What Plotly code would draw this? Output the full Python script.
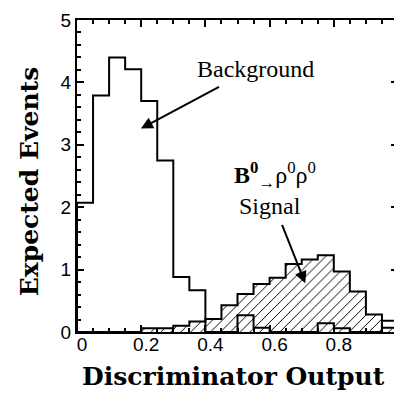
import plotly.graph_objects as go

# ---- data ----
bin_edges = [round(0.05 * i, 2) for i in range(21)]
background = [2.07, 3.79, 4.40, 4.21, 3.70, 2.75, 0.88, 0.67, 0.0, 0.0,
              0.27, 0.07, 0.0, 0.0, 0.0, 0.14, 0.06, 0.0, 0.0, 0.18]
signal = [0.0, 0.0, 0.0, 0.0, 0.06, 0.06, 0.10, 0.17, 0.21, 0.43,
          0.61, 0.77, 0.87, 1.09, 1.16, 1.23, 0.97, 0.65, 0.28, 0.07]
x_ticks = [0, 0.2, 0.4, 0.6, 0.8]
x_tick_labels = ["0", "0.2", "0.4", "0.6", "0.8"]
y_ticks = [0, 1, 2, 3, 4, 5]

def step_xy(values):
    xs = [bin_edges[0]] + bin_edges[:-1] + [bin_edges[-1]]
    ys = [0.0] + list(values) + [values[-1]]
    return xs, ys

centers = [(bin_edges[i] + bin_edges[i + 1]) / 2 for i in range(len(bin_edges) - 1)]
overlap = [b if (0 < b < s) else 0 for b, s in zip(background, signal)]

fig = go.Figure()

sx, sy = step_xy(signal)
fig.add_trace(go.Scatter(
    x=sx, y=sy, mode="lines", line=dict(shape="hv", color="black", width=2),
    fill="tozeroy", fillcolor="white",
    fillpattern=dict(shape="/", fgcolor="black", bgcolor="white", size=7,
                     solidity=0.14, fillmode="replace"),
    showlegend=False, hoverinfo="skip"))

fig.add_trace(go.Bar(
    x=centers, y=overlap, width=0.05,
    marker=dict(color="white", line=dict(color="black", width=2)),
    showlegend=False, hoverinfo="skip"))

bx, by = step_xy(background)
fig.add_trace(go.Scatter(
    x=bx, y=by, mode="lines", line=dict(shape="hv", color="black", width=2),
    showlegend=False, hoverinfo="skip"))

serif = "Liberation Serif, Times New Roman, serif"
title_font = "DejaVu Serif, serif"
sans = "Liberation Sans, Arial, sans-serif"

annotations = [
    dict(x=0.556, y=4.22, xref="x", yref="y", text="Background", showarrow=False,
         font=dict(family=serif, size=24, color="black")),
    dict(x=0.199, y=3.26, ax=0.447, ay=3.94, xref="x", yref="y", axref="x", ayref="y",
         text="", showarrow=True, arrowhead=2, arrowsize=1.2, arrowwidth=2, arrowcolor="black"),
    dict(x=0.618, y=2.52, xref="x", yref="y",
         text="<b>B</b><sup><b>0</b></sup><sub>→</sub>ρ<sup>0</sup>ρ<sup>0</sup>",
         showarrow=False, font=dict(family=serif, size=24, color="black")),
    dict(x=0.602, y=2.02, xref="x", yref="y", text="Signal", showarrow=False,
         font=dict(family=serif, size=24, color="black")),
    dict(x=0.711, y=0.78, ax=0.637, ay=1.74, xref="x", yref="y", axref="x", ayref="y",
         text="", showarrow=True, arrowhead=2, arrowsize=1.2, arrowwidth=2, arrowcolor="black"),
    dict(x=0.489, y=-0.143, xref="paper", yref="paper", xanchor="center", yanchor="middle",
         text="<b>Discriminator Output</b>",
         showarrow=False, font=dict(family=title_font, size=25, color="black")),
    dict(x=-0.1455, y=0.484, xref="paper", yref="paper", xanchor="center", yanchor="middle",
         text="<b>Expected Events</b>",
         textangle=-90, showarrow=False, font=dict(family=title_font, size=25, color="black")),
]

# figure is offset 8px by the page body margin, so shrink it by 8px
fig.update_layout(
    width=394, height=389,
    margin=dict(l=69, r=2, t=2, b=65),
    paper_bgcolor="white", plot_bgcolor="white",
    barmode="overlay",
    annotations=annotations,
    xaxis=dict(range=[0, 1], tickvals=x_ticks, ticktext=x_tick_labels,
               ticks="inside", ticklen=7, tickwidth=1.5, tickcolor="black",
               minor=dict(dtick=0.05, tick0=0, ticks="inside", ticklen=4, tickcolor="black"),
               showline=True, linewidth=2, linecolor="black", mirror="allticks",
               showgrid=False, zeroline=False, ticklabelstandoff=-6, ticklabelshift=5,
               ticklabeloverflow="allow",
               tickfont=dict(family=sans, size=19, color="black")),
    yaxis=dict(range=[0, 5], tickvals=y_ticks,
               ticks="inside", ticklen=7, tickwidth=1.5, tickcolor="black",
               minor=dict(dtick=0.2, tick0=0, ticks="inside", ticklen=4, tickcolor="black"),
               showline=True, linewidth=2, linecolor="black", mirror="allticks",
               showgrid=False, zeroline=False, ticklabeloverflow="allow",
               tickfont=dict(family=sans, size=19, color="black")),
)

fig.write_html("out.html")
